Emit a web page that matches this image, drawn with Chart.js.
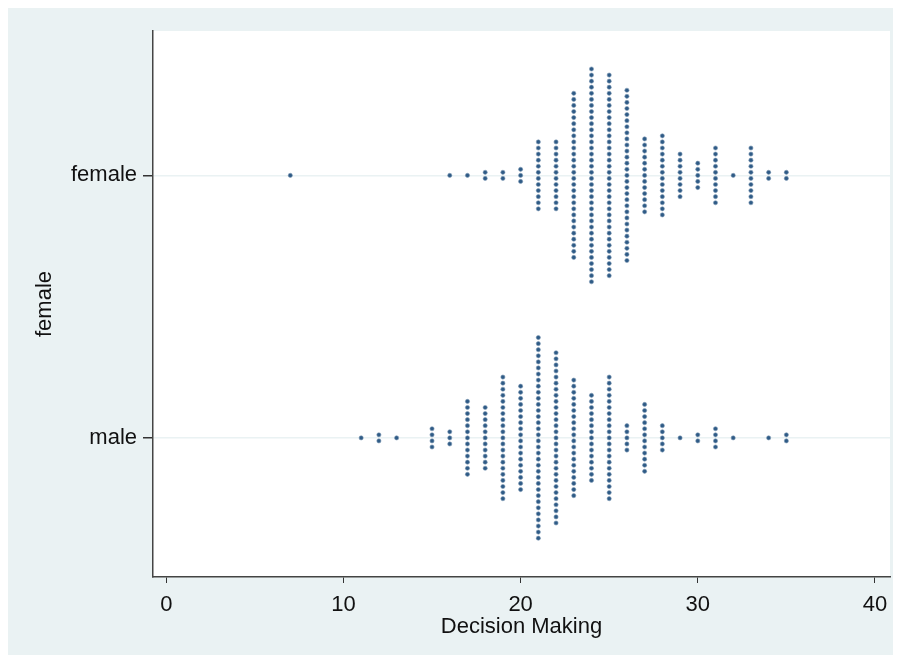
<!DOCTYPE html>
<html lang="en">
  <head>
    <meta charset="UTF-8" />
    <title>Decision Making by sex</title>
    <style>
      body { margin: 0; background: #fff; }
      canvas { display: block; }
    </style>
    <script src="https://cdn.jsdelivr.net/npm/chart.js"></script>
  </head>
  <body>
    <canvas id="chart" width="901" height="662"></canvas>
    <script>
      // Decision Making scores and how many respondents got each one
      const scores = [7, 11, 12, 13, 15, 16, 17, 18, 19, 20, 21, 22, 23, 24, 25, 26, 27, 28, 29, 30, 31, 32, 33, 34, 35];
      const femaleCounts = [1, 0, 0, 0, 0, 1, 1, 2, 2, 3, 12, 12, 28, 36, 34, 29, 13, 14, 8, 5, 10, 1, 10, 2, 2];
      const maleCounts = [0, 1, 2, 1, 4, 3, 13, 11, 21, 18, 34, 29, 20, 15, 21, 5, 12, 5, 1, 2, 4, 1, 0, 1, 2];
      const groups = ["male", "female"]; // y = 0, y = 1
      const xTicks = [0, 10, 20, 30, 40];

      const dotStep = 0.02316; // vertical gap between stacked dots, in y units

      // stack each count symmetrically around its row
      function stack(counts, row) {
        const pts = [];
        scores.forEach((s, i) => {
          const n = counts[i];
          for (let k = 0; k < n; k++) {
            pts.push({ x: s, y: row + (k - (n - 1) / 2) * dotStep });
          }
        });
        return pts;
      }

      const bgPlugin = {
        id: "bg",
        beforeDraw(chart) {
          const { ctx, chartArea } = chart;
          ctx.save();
          ctx.fillStyle = "#ffffff";
          ctx.fillRect(0, 0, chart.width, chart.height);
          ctx.fillStyle = "#eaf2f3";
          ctx.fillRect(8, 8, 885, 647);
          ctx.fillStyle = "#ffffff";
          ctx.fillRect(chartArea.left, chartArea.top, chartArea.right - chartArea.left, chartArea.bottom - chartArea.top);
          ctx.restore();
        },
      };

      const font = { family: "'Liberation Sans', Arial, sans-serif", size: 22 };

      new Chart(document.getElementById("chart"), {
        type: "scatter",
        data: {
          datasets: [
            {
              label: "female",
              data: stack(femaleCounts, 1),
              backgroundColor: "#2f5b86",
              borderColor: "#7f9bb6",
              borderWidth: 0.6,
              pointRadius: 2.1,
            },
            {
              label: "male",
              data: stack(maleCounts, 0),
              backgroundColor: "#2f5b86",
              borderColor: "#7f9bb6",
              borderWidth: 0.6,
              pointRadius: 2.1,
            },
          ],
        },
        options: {
          responsive: false,
          animation: false,
          layout: { padding: { left: 0, top: 31, right: 11, bottom: 0 } },
          plugins: {
            legend: { display: false },
            tooltip: { enabled: false },
          },
          scales: {
            x: {
              type: "linear",
              min: -0.75,
              max: 40.85,
              afterBuildTicks(scale) {
                scale.ticks = xTicks.map((v) => ({ value: v }));
              },
              afterFit(scale) {
                scale.height = 85;
              },
              grid: {
                drawOnChartArea: false,
                tickLength: 6,
                tickColor: "#333",
              },
              border: { color: "#444", width: 1.5 },
              ticks: { color: "#111", font: font, padding: 9, maxRotation: 0 },
              title: {
                display: true,
                text: "Decision Making",
                color: "#111",
                font: font,
                padding: { top: 0, bottom: 22 },
              },
            },
            y: {
              type: "linear",
              min: -0.53,
              max: 1.55,
              afterBuildTicks(scale) {
                scale.ticks = [{ value: 0 }, { value: 1 }];
              },
              afterFit(scale) {
                scale.width = 153;
              },
              grid: {
                color: "#eaf2f3",
                lineWidth: 1.5,
                tickLength: 10,
                tickColor: "#333",
              },
              border: { color: "#444", width: 1.5 },
              ticks: {
                color: "#111",
                font: font,
                padding: 6,
                callback: (v) => groups[v],
              },
              title: {
                display: true,
                text: "female",
                color: "#111",
                font: font,
                padding: { top: 32, bottom: 0 },
              },
            },
          },
        },
        plugins: [bgPlugin],
      });
    </script>
  </body>
</html>
